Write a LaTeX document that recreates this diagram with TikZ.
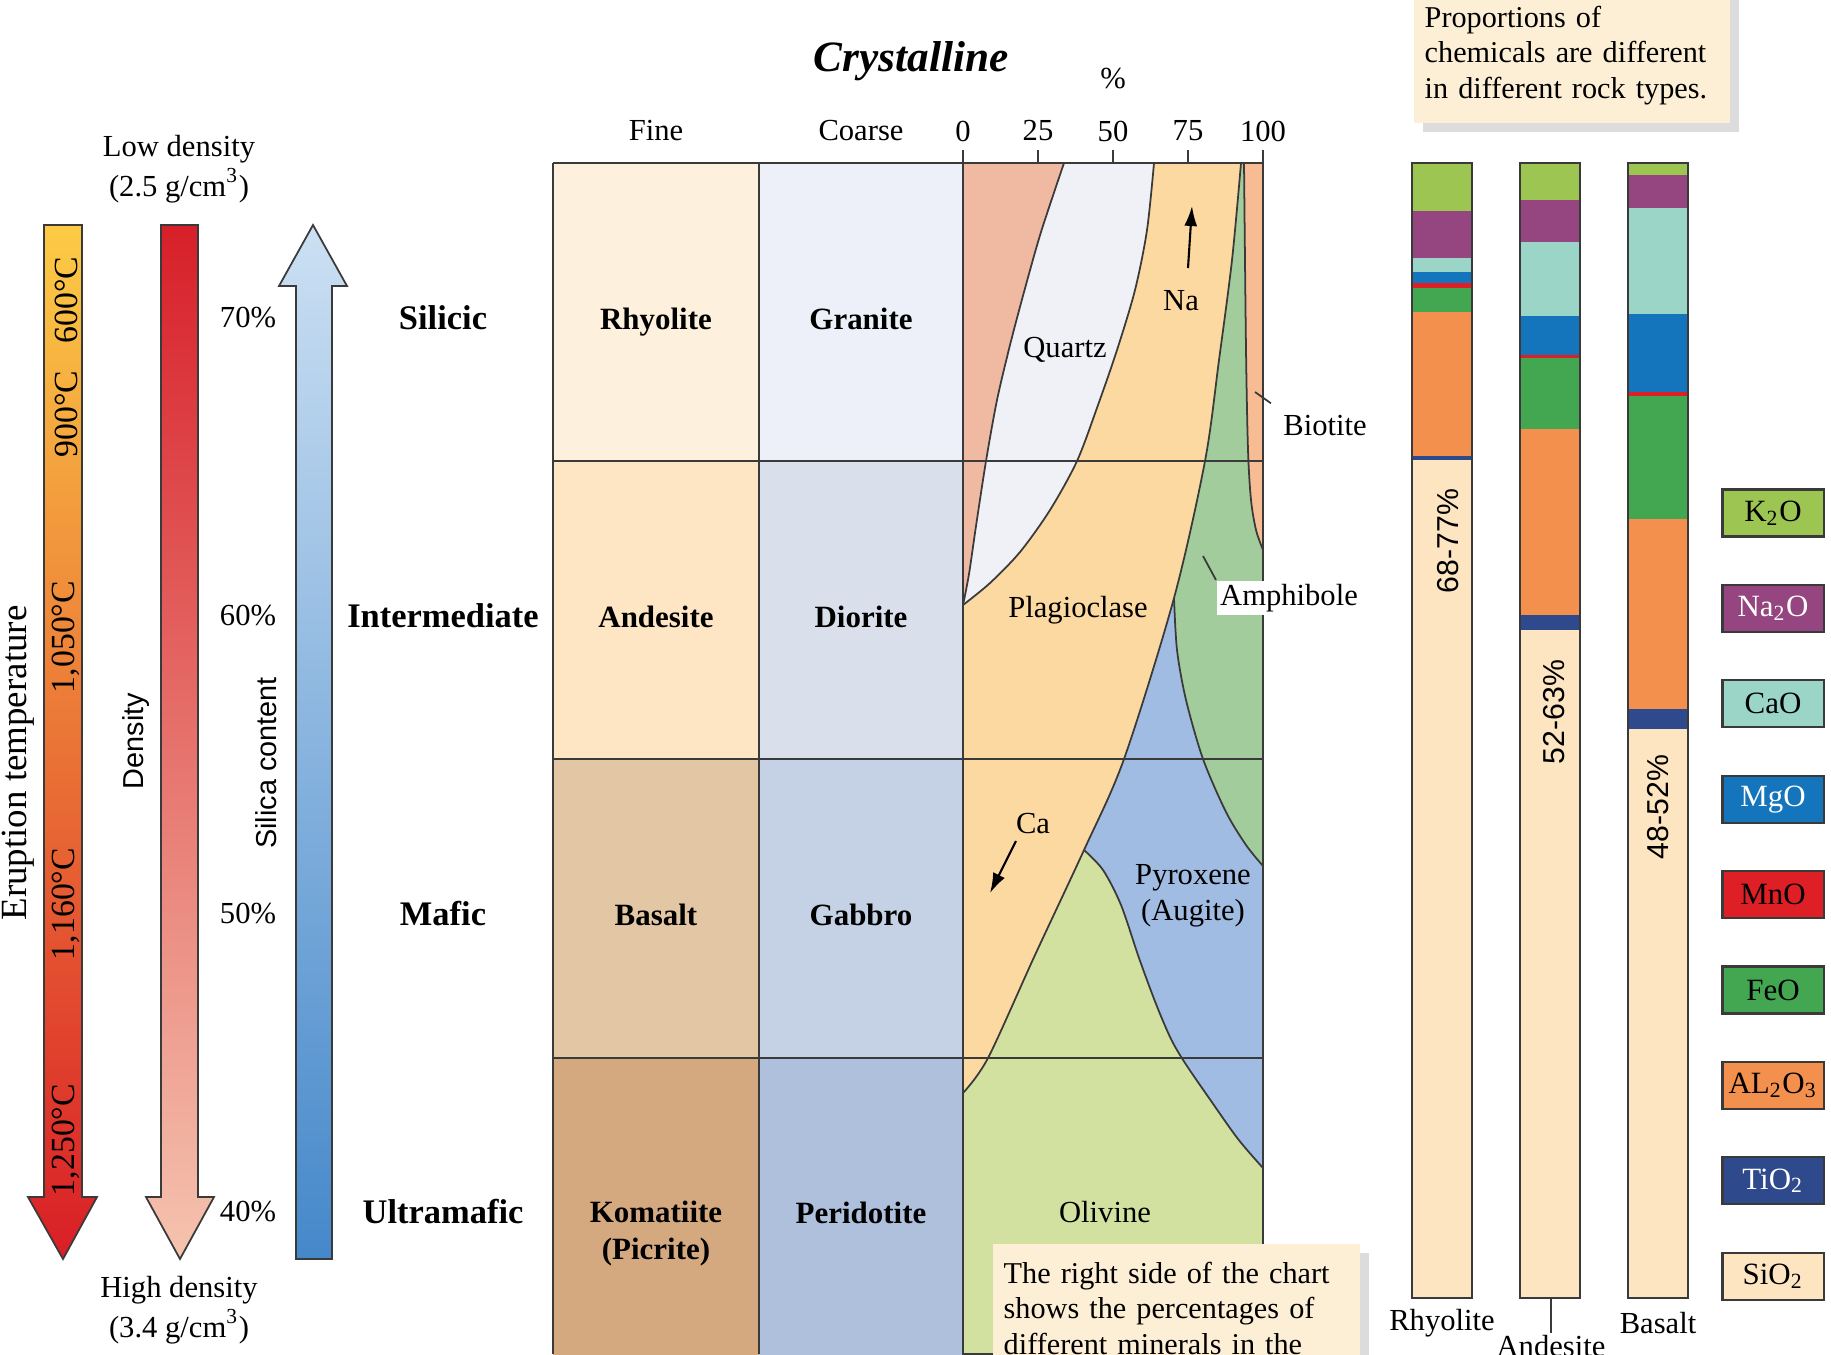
\documentclass[tikz,border=0pt]{standalone}
\usepackage{fontspec}
\setmainfont{Liberation Serif}
\setsansfont{Liberation Sans}
\usetikzlibrary{arrows.meta,shadows}
\definecolor{linegray}{HTML}{3A3A3A}
\definecolor{rhyolitecol}{HTML}{FDF1DE}
\definecolor{granitecol}{HTML}{EDF0F8}
\definecolor{andesitecol}{HTML}{FEE6C4}
\definecolor{dioritecol}{HTML}{D9E0EC}
\definecolor{basaltcol}{HTML}{E3C7A5}
\definecolor{gabbrocol}{HTML}{C5D2E6}
\definecolor{komatiitecol}{HTML}{D5A97F}
\definecolor{peridotitecol}{HTML}{AFC0DC}
\definecolor{orthocol}{HTML}{F0B9A2}
\definecolor{quartzcol}{HTML}{EFF1F7}
\definecolor{plagcol}{HTML}{FDD9A2}
\definecolor{amphcol}{HTML}{A2CC9C}
\definecolor{biotcol}{HTML}{F8BC94}
\definecolor{pyxcol}{HTML}{A0BCE2}
\definecolor{olivcol}{HTML}{D3E1A0}
\definecolor{notecol}{HTML}{FDEFD5}
\definecolor{kcol}{HTML}{9DC552}
\definecolor{nacol}{HTML}{95457F}
\definecolor{cacol}{HTML}{9AD5C8}
\definecolor{mgcol}{HTML}{1475BC}
\definecolor{mncol}{HTML}{DE1F26}
\definecolor{fecol}{HTML}{43A651}
\definecolor{alcol}{HTML}{F3904E}
\definecolor{ticol}{HTML}{2E4A8C}
\definecolor{sicol}{HTML}{FDE5C2}
\definecolor{hotyellow}{HTML}{FCCB45}
\definecolor{hotorange}{HTML}{F0902F}
\definecolor{hotred}{HTML}{D91E27}
\definecolor{densetop}{HTML}{D71F29}
\definecolor{densebot}{HTML}{F5C4AF}
\definecolor{silicatop}{HTML}{CCE0F3}
\definecolor{silicabot}{HTML}{4588CA}
\tikzset{gridline/.style={draw=linegray, line width=0.5pt}}
\tikzset{zone/.style={draw=linegray, line width=0.5pt}}
\tikzset{bigarrow/.style={draw=linegray, line width=0.5pt}}
\tikzset{barline/.style={draw=linegray, line width=0.6pt}}
\tikzset{leader/.style={draw=linegray, line width=0.5pt}}
\tikzset{minarrow/.style={draw=black, line width=0.6pt, -{Latex[length=2mm,width=1.3mm]}}}
\tikzset{smalllabel/.style={font=\fontsize{8.7}{11.4}\selectfont, align=center}}
\tikzset{axislabel/.style={font=\fontsize{10.5}{12}\selectfont}}
\tikzset{templabel/.style={font=\fontsize{9.6}{11}\selectfont}}
\tikzset{sanslabel/.style={font=\fontsize{8.2}{10}\selectfont\sffamily}}
\tikzset{classlabel/.style={font=\fontsize{9.8}{12}\selectfont\bfseries, anchor=base}}
\tikzset{rocklabel/.style={font=\fontsize{8.8}{10.3}\selectfont\bfseries, align=center, anchor=base}}
\tikzset{titlelabel/.style={font=\fontsize{12.3}{14}\selectfont\bfseries\itshape}}
\tikzset{mineral/.style={font=\fontsize{8.7}{10.3}\selectfont, align=center}}
\tikzset{barpct/.style={font=\fontsize{8.6}{10}\selectfont\sffamily}}
\tikzset{oxide/.style={draw=linegray, line width=0.6pt, minimum width=10.1mm, minimum height=4.7mm, inner sep=0pt, font=\fontsize{8.8}{10}\selectfont}}
\tikzset{note/.style={fill=notecol, drop shadow={shadow xshift=0.9mm, shadow yshift=-0.9mm, fill=black!45, opacity=0.3}, align=left, inner xsep=1.1mm, inner ysep=1.8mm, font=\fontsize{8.6}{10.2}\selectfont}}

\begin{document}
\begin{tikzpicture}[x=0.01cm,y=-0.01cm]
    \useasboundingbox (0,0) rectangle (1831,1354);
    \clip (0,0) rectangle (1831,1354);
    \fill[white] (0,0) rectangle (1831,1354);

    \draw[bigarrow, top color=hotyellow, middle color=hotorange, bottom color=hotred]
        (44,225) -- (82,225) -- (82,1197) -- (97,1197) -- (63,1259) -- (28,1197) -- (44,1197) -- cycle;
    \draw[bigarrow, top color=densetop, bottom color=densebot]
        (161,225) -- (198,225) -- (198,1197) -- (214,1197) -- (180,1259) -- (146,1197) -- (161,1197) -- cycle;
    \draw[bigarrow, top color=silicatop, bottom color=silicabot]
        (313,225) -- (347,286) -- (332,286) -- (332,1259) -- (296,1259) -- (296,286) -- (279,286) -- cycle;

    \node[axislabel, rotate=90] (erupt) at (18,763) {Eruption temperature};
    \foreach \tval/\y [count=\i] in {600/300, 900/414, {1,050}/637, {1,160}/904, {1,250}/1140}
        \node[templabel, rotate=90] (temp\i) at (66,\y) {\tval°C};
    \node[sanslabel, rotate=90] (density) at (136,741) {Density};
    \node[sanslabel, rotate=90] (silica) at (266,763) {Silica content};
    \node[smalllabel] (lowdens) at (179,169) {Low density\\(2.5 g/cm\textsuperscript{3})};
    \node[smalllabel] (highdens) at (179,1310) {High density\\(3.4 g/cm\textsuperscript{3})};

    \foreach \p/\c [count=\i from 0] in {70/Silicic, 60/Intermediate, 50/Mafic, 40/Ultramafic} {
            \node[smalllabel] (pct\p) at (248,318+298*\i) {\p\%};
            \node[classlabel] (class\i) at (443,329+298*\i) {\c};
        }

    \foreach \fc/\cc/\fname/\cname/\fy [count=\r from 0] in {rhyolitecol/granitecol/Rhyolite/Granite/329, andesitecol/dioritecol/Andesite/Diorite/627, basaltcol/gabbrocol/Basalt/Gabbro/925, komatiitecol/peridotitecol/{Komatiite\\(Picrite)}/Peridotite/1259} {
            \fill[\fc] (553,163+298*\r) rectangle (759,461+298*\r);
            \fill[\cc] (759,163+298*\r) rectangle (963,461+298*\r);
            \node[rocklabel] (fine\r) at (656,\fy) {\fname};
            \node[rocklabel] (coarse\r) at (861,329+298*\r) {\cname};
        }

    \fill[pyxcol] (963,163) rectangle (1263,1354);
    \filldraw[zone, fill=olivcol] plot[smooth] coordinates {(1084,850) (1103,870) (1121,905) (1139,958) (1156,1004) (1171,1039) (1185,1063) (1209,1098) (1238,1139) (1263,1168)}
        -- (1263,1354) -- (963,1354) -- (963,850) -- cycle;
    \filldraw[zone, fill=amphcol] plot[smooth] coordinates {(1174,598) (1177,650) (1186,700) (1203,759) (1226,812) (1246,845) (1263,866)}
        -- (1263,163) -- (1174,163) -- cycle;
    \filldraw[zone, fill=biotcol] plot[smooth] coordinates {(1244,163) (1246,350) (1248,450) (1251,500) (1256,530) (1263,550)}
        -- (1263,163) -- cycle;
    \filldraw[zone, fill=plagcol] plot[smooth] coordinates {(1241,163) (1232,260) (1219,360) (1205,461) (1174,598) (1124,759) (1084,850) (1035,955) (988,1058) (963,1093)}
        -- (963,163) -- cycle;
    \filldraw[zone, fill=quartzcol] plot[smooth] coordinates {(1154,163) (1147,230) (1135,290) (1117,350) (1098,405) (1077,461) (1050,510) (1020,552) (990,583) (963,605)}
        -- (963,163) -- cycle;
    \filldraw[zone, fill=orthocol] plot[smooth] coordinates {(1064,163) (1041,232) (1024,292) (1010,345) (997,400) (986,461) (976,526) (969,574) (963,605)}
        -- (963,163) -- cycle;

    \draw[gridline] (553,163) -- (1263,163);
    \foreach \y in {461,759,1058}
        \draw[gridline] (553,\y) -- (1263,\y);
    \foreach \x in {553,759}
        \draw[gridline] (\x,163) -- (\x,1354);
    \foreach \x in {963,1263}
        \draw[gridline] (\x,150) -- (\x,1354);
    \foreach \p in {25,50,75}
        \draw[gridline] (963+3*\p,150) -- (963+3*\p,163);
    \foreach \p in {0,25,50,75,100}
        \node[smalllabel] (tick\p) at (963+3*\p,131) {\p};

    \node[titlelabel] (title) at (911,61) {Crystalline};
    \node[smalllabel] (pcthead) at (1113,79) {\%};
    \node[smalllabel] (hdrfine) at (656,131) {Fine};
    \node[smalllabel] (hdrcoarse) at (861,131) {Coarse};

    \node[mineral] (quartz) at (1065,350) {Quartz};
    \node[mineral] (na) at (1181,301) {Na};
    \coordinate (natail) at (1188,268);
    \coordinate (natip) at (1192,206);
    \draw[minarrow] (natail) -- (natip);
    \node[mineral] (plag) at (1078,610) {Plagioclase};
    \node[mineral] (ca) at (1033,824) {Ca};
    \coordinate (catail) at (1016,841);
    \coordinate (catip) at (990,893);
    \draw[minarrow] (catail) -- (catip);
    \node[mineral] (pyx) at (1193,896) {Pyroxene\\(Augite)};
    \node[mineral] (oliv) at (1105,1212) {Olivine};
    \node[mineral] (biotite) at (1325,426) {Biotite};
    \coordinate (biotip) at (1255,392);
    \draw[leader] (biotip) -- (biotite.north west);
    \node[mineral, fill=white, inner sep=1pt] (amph) at (1289,598) {Amphibole};
    \coordinate (amphtip) at (1203,556);
    \draw[leader] (amphtip) -- (amph.north west);

    \node[note, text width=34.5mm, anchor=north west] (mineralnote) at (992,1243)
        {The right side of the chart\\shows the percentages of\\different minerals in the};
    \node[note, text width=29.4mm, anchor=south west] (chemnote) at (1413,124)
        {Proportions of\\chemicals are different\\in different rock types.};

    \foreach \col/\ya/\yb in {kcol/163/211, nacol/211/258, cacol/258/272, mgcol/272/283, mncol/283/288, fecol/288/312, alcol/312/456, ticol/456/460, sicol/460/1298}
        \fill[\col] (1412,\ya) rectangle (1472,\yb);
    \foreach \col/\ya/\yb in {kcol/163/200, nacol/200/242, cacol/242/316, mgcol/316/355, mncol/355/358, fecol/358/429, alcol/429/615, ticol/615/630, sicol/630/1298}
        \fill[\col] (1520,\ya) rectangle (1581,\yb);
    \foreach \col/\ya/\yb in {kcol/163/175, nacol/175/208, cacol/208/314, mgcol/314/392, mncol/392/396, fecol/396/519, alcol/519/709, ticol/709/729, sicol/729/1298}
        \fill[\col] (1628,\ya) rectangle (1688,\yb);
    \foreach \x in {1412,1520,1628}
        \draw[barline] (\x,163) rectangle (\x+60,1298);

    \node[barpct, rotate=90] (rhyopct) at (1448,541) {68-77\%};
    \node[barpct, rotate=90] (andpct) at (1554,712) {52-63\%};
    \node[barpct, rotate=90] (baspct) at (1658,807) {48-52\%};
    \node[smalllabel] (rhyolbl) at (1442,1323) {Rhyolite};
    \node[smalllabel] (baslbl) at (1658,1323) {Basalt};
    \node[smalllabel, inner sep=0.5pt] (andlbl) at (1551,1346) {Andesite};
    \coordinate (andbot) at (1551,1298);
    \draw[leader] (andbot) -- (andlbl.north);

    \foreach \col/\txt/\tcol [count=\i from 0] in {kcol/K\textsubscript{2}O/black, nacol/Na\textsubscript{2}O/white, cacol/CaO/black, mgcol/MgO/white, mncol/MnO/black, fecol/FeO/black, alcol/AL\textsubscript{2}O\textsubscript{3}/black, ticol/TiO\textsubscript{2}/white, sicol/SiO\textsubscript{2}/black}
        \node[oxide, fill=\col, text=\tcol] (ox\i) at (1773,513+95.4*\i) {\txt};

\end{tikzpicture}
\end{document}
